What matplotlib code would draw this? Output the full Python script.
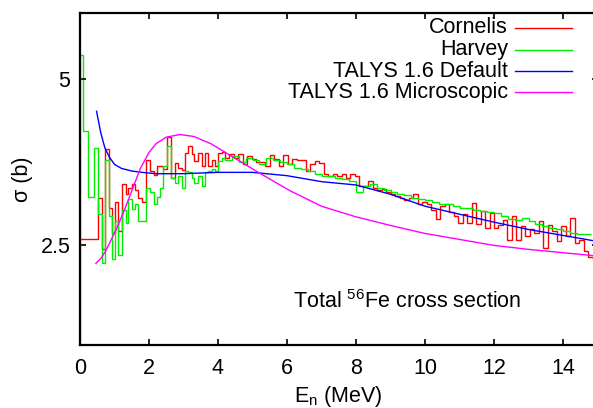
import numpy as np
import matplotlib
matplotlib.use("Agg")
import matplotlib.pyplot as plt

plt.rcParams['font.family'] = ['Liberation Sans', 'DejaVu Sans']
plt.rcParams['mathtext.fontset'] = 'custom'
plt.rcParams['mathtext.rm'] = 'Liberation Sans'
plt.rcParams['mathtext.it'] = 'Liberation Sans'
plt.rcParams['mathtext.default'] = 'regular'

# ---------------- data ----------------
# Cornelis (low-energy part, explicit bin edges in MeV)
corn_lo_edges = [0, 0.51, 0.63, 0.725, 0.84, 0.92, 1.01, 1.11, 1.21, 1.32, 1.40, 1.50,
                 1.59, 1.67, 1.79, 1.90, 2.03, 2.15, 2.22, 2.41, 2.51, 2.64, 2.75, 2.85,
                 2.95, 3.04, 3.12, 3.24, 3.31, 3.43, 3.53, 3.62, 3.72, 3.82, 3.91, 4.01,
                 4.11, 4.2]
corn_lo_vals = [2.59, 3.21, 2.45, 3.95, 3.06, 2.69, 3.15, 2.71, 3.43, 3.28, 3.36, 3.43,
                3.34, 3.21, 3.15, 3.79, 3.62, 3.56, 3.70, 3.65, 4.14, 3.52, 3.74, 3.67,
                3.63, 3.89, 4.00, 3.87, 3.77, 3.89, 3.70, 3.89, 3.70, 3.79, 3.70, 3.89,
                3.91]
# Cornelis (high-energy part, bins of constant width)
corn_hi_start = 4.2
corn_hi_width = 0.13
corn_hi_vals = [3.82, 3.88, 3.81, 3.88, 3.73, 3.85, 3.80, 3.75, 3.76, 3.70, 3.86, 3.80,
                3.70, 3.86, 3.72, 3.80, 3.79, 3.78, 3.62, 3.72, 3.77,
                3.74, 3.57, 3.55, 3.58, 3.54, 3.57, 3.52, 3.57, 3.54, 3.40, 3.39, 3.47,
                3.36, 3.33, 3.35, 3.30, 3.27, 3.25, 3.21, 3.19,
                3.22, 3.27, 3.12, 3.15, 3.12, 3.04, 2.90, 3.10, 3.12, 3.00, 2.95, 2.84,
                2.98, 2.84, 3.14, 2.82, 3.02, 2.76,
                2.99, 2.76, 2.81, 2.89, 2.58, 2.94, 2.58, 2.79, 2.64, 2.74, 2.69, 2.86,
                2.46, 2.81, 2.71, 2.56, 2.79, 2.64, 2.91, 2.54, 2.58, 2.41, 2.33, 2.28]

# Harvey
harv_lo_edges = [0, 0.1, 0.22, 0.41, 0.53, 0.63, 0.725, 0.84, 0.92, 1.01, 1.11, 1.21,
                 1.32, 1.40, 1.50, 1.59, 1.67, 1.79, 1.90, 2.03, 2.15, 2.22, 2.32, 2.41,
                 2.51, 2.64, 2.75, 2.85, 2.95, 3.04, 3.12, 3.24, 3.31, 3.43, 3.53, 3.62,
                 3.72, 3.82, 3.91, 4.01, 4.11, 4.2]
harv_lo_vals = [5.36, 4.22, 3.23, 3.97, 2.97, 2.23, 3.79, 2.95, 2.29, 2.86, 2.36, 3.04,
                2.84, 3.20, 3.05, 3.12, 2.86, 2.87, 3.36, 3.30, 3.13, 3.23, 3.36, 3.70,
                4.00, 3.52, 3.44, 3.54, 3.36, 3.62, 3.60, 3.52, 3.44, 3.54, 3.39, 3.60,
                3.62, 3.65, 3.62, 3.77, 3.82]
harv_hi_start = 4.2
harv_hi_width = 0.2
harv_hi_vals = [3.78, 3.85, 3.75, 3.82, 3.78, 3.72, 3.82, 3.78, 3.75, 3.72, 3.66, 3.65, 3.62,
                3.58, 3.55, 3.55, 3.52, 3.50, 3.47, 3.30, 3.40, 3.42, 3.36, 3.33, 3.30, 3.28, 3.26,
                3.22, 3.20, 3.18, 3.15, 3.12, 3.12, 3.10, 3.06, 3.06, 3.04, 3.02, 3.00,
                2.99, 2.95, 2.90, 2.89, 2.91, 2.86, 2.82, 2.79, 2.76, 2.74, 2.71, 2.68, 2.67, 2.67]

# TALYS 1.6 Default
tal_def_E = [0.48, 0.6, 0.72, 0.85, 1.0, 1.2, 1.5, 1.8, 2.2, 3.0, 4.0, 5.0, 6.0, 7.0, 8.0,
             9.0, 10.0, 11.0, 12.0, 13.0, 14.0, 15.0]
tal_def_s = [4.52, 4.20, 3.97, 3.83, 3.72, 3.66, 3.62, 3.60, 3.58, 3.58, 3.60, 3.60, 3.55,
             3.46, 3.41, 3.27, 3.09, 2.97, 2.85, 2.74, 2.65, 2.56]

# TALYS 1.6 Microscopic
tal_mic_E = [0.46, 0.6, 0.75, 0.9, 1.1, 1.3, 1.5, 1.75, 2.0, 2.2, 2.5, 2.9, 3.3, 3.8, 4.5,
             5.2, 6.1, 7.0, 8.0, 9.0, 10.0, 11.0, 12.0, 13.0, 14.0, 15.0]
tal_mic_s = [2.23, 2.30, 2.42, 2.58, 2.80, 3.05, 3.32, 3.66, 3.90, 4.03, 4.13, 4.17, 4.14,
             4.03, 3.81, 3.59, 3.32, 3.09, 2.93, 2.80, 2.68, 2.59, 2.50, 2.44, 2.39, 2.34]

x_ticks = [0, 2, 4, 6, 8, 10, 12, 14]
y_ticks = [2.5, 5]
y_tick_labels = ['2.5', '5']
y_range = (1, 6)

# ---------------- figure ----------------
W, H = 593, 408
fig = plt.figure(figsize=(W / 100, H / 100), dpi=100)
ax = fig.add_axes([80 / W, (H - 345) / H, 517.5 / W, 332 / H])

corn_edges = list(corn_lo_edges) + [corn_hi_start + corn_hi_width * (i + 1)
                                    for i in range(len(corn_hi_vals))]
corn_vals = list(corn_lo_vals) + list(corn_hi_vals)
harv_edges = list(harv_lo_edges) + [harv_hi_start + harv_hi_width * (i + 1)
                                    for i in range(len(harv_hi_vals))]
harv_vals = list(harv_lo_vals) + list(harv_hi_vals)

red = '#ff0000'
green = '#00ee00'
blue = '#0000ff'
magenta = '#ff00ff'

ax.stairs(corn_vals, corn_edges, color=red, lw=1.0, baseline=None)
ax.stairs(harv_vals, harv_edges, color=green, lw=1.0, baseline=None)
# Harvey data rises from the bottom of the frame at the first edge
ax.plot([harv_edges[0], harv_edges[0]], [y_range[0], harv_vals[0]], color=green, lw=1.0)
ax.plot(tal_def_E, tal_def_s, color=blue, lw=1.0)
ax.plot(tal_mic_E, tal_mic_s, color=magenta, lw=1.0)

ax.set_xlim(0, 15)
ax.set_ylim(*y_range)
ax.set_xticks(x_ticks)
ax.set_yticks(y_ticks)
ax.set_yticklabels(y_tick_labels)
ax.tick_params(direction='in', length=4, width=1.2, top=True, right=True,
               labelsize=15.5)
ax.tick_params(axis='x', pad=9)
ax.tick_params(axis='y', pad=7)
for sp in ax.spines.values():
    sp.set_linewidth(1.6)

ax.set_xlabel('E$_n$ (MeV)', fontsize=15.5, labelpad=4)
ax.set_ylabel('σ (b)', fontsize=15.5, labelpad=5)

# legend (gnuplot style: right aligned text, sample to the right)
labels = ['Cornelis', 'Harvey', 'TALYS 1.6 Default', 'TALYS 1.6 Microscopic']
colors = [red, green, blue, magenta]
rows = [0.955, 0.889, 0.825, 0.761]
for lab, c, yy in zip(labels, colors, rows):
    ax.text(0.827, yy, lab, transform=ax.transAxes, ha='right', va='center',
            fontsize=15.5)
    ax.plot([0.8406, 0.9507], [yy, yy], transform=ax.transAxes, color=c, lw=1.0)

ax.text(0.411, (345 - 308) / 332, 'Total $^{56}$Fe cross section', transform=ax.transAxes,
        ha='left', va='baseline', fontsize=15.5)

fig.savefig('out.png', dpi=100)
